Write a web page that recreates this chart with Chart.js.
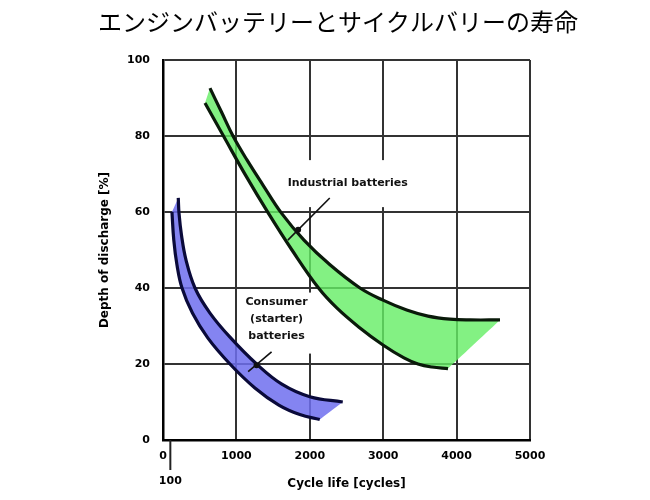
<!DOCTYPE html>
<html>
<head>
<meta charset="utf-8">
<script src="https://cdn.jsdelivr.net/npm/chart.js@4.4.1/dist/chart.umd.min.js"></script>
<style>
  html, body { margin: 0; padding: 0; background: #fff; }
</style>
</head>
<body>
<canvas id="chart" width="650" height="500"></canvas>
<script>
    "use strict";

    // Title, axis texts and ticks
    var chartTitle = "エンジンバッテリーとサイクルバリーの寿命";
    var xTitle = "Cycle life [cycles]";
    var yTitle = "Depth of discharge [%]";
    var xTicks = [0, 1000, 2000, 3000, 4000, 5000];
    var yTicks = [0, 20, 40, 60, 80, 100];
    var xMarker = 100;

    // Consumer (starter) batteries band: upper and lower edge
    var consumerUpperX = [208, 218, 252, 313, 436, 640, 925, 1275, 1619, 2000, 2449];
    var consumerUpperY = [63.7, 59.7, 53.9, 47.4, 40, 33.4, 26.8, 20, 14.7, 11.4, 10];
    var consumerLowerX = [122, 147, 190, 259, 401, 612, 912, 1252, 1578, 1864, 2136];
    var consumerLowerY = [60, 52.6, 46.1, 40, 33.4, 26.8, 20, 13.7, 9.2, 6.7, 5.4];

    // Industrial batteries band: upper and lower edge
    var industrialUpperX = [640, 797, 954, 1144, 1362, 1614, 1921, 2275, 2684, 2997, 3320, 3610, 3910, 4183, 4591];
    var industrialUpperY = [92.6, 86.3, 80, 73.7, 67.1, 59.7, 52.6, 46.1, 40, 36.8, 34.2, 32.6, 31.8, 31.6, 31.6];
    var industrialLowerX = [572, 824, 1124, 1435, 1757, 2119, 2371, 2670, 2997, 3283, 3474, 3665, 3883];
    var industrialLowerY = [88.7, 80, 69.7, 59.7, 50, 40, 34.7, 29.7, 25, 21.6, 20, 19.2, 18.8];

    var consumerLabel = ["Consumer", "(starter)", "batteries"];
    var industrialLabel = "Industrial batteries";

    function toPoints(xs, ys) {
        return xs.map(function (x, i) { return { x: x, y: ys[i] }; });
    }

    // closed outline for fill: 'shape' (ends doubled so curves match the edge lines)
    function bandShape(upper, lower) {
        var l = lower.slice().reverse();
        return upper.concat([upper[upper.length - 1], l[0]], l, [l[l.length - 1]]);
    }

    var consumerUpper = toPoints(consumerUpperX, consumerUpperY);
    var consumerLower = toPoints(consumerLowerX, consumerLowerY);
    var industrialUpper = toPoints(industrialUpperX, industrialUpperY);
    var industrialLower = toPoints(industrialLowerX, industrialLowerY);

    var boldFont = { family: "DejaVu Sans", size: 11, weight: "bold" };

    function edgeLine(data, color) {
        return {
            data: data,
            borderColor: color,
            borderWidth: 3.2,
            pointRadius: 0,
            tension: 0.4,
            fill: false,
            order: 1
        };
    }

    function bandFill(data, color) {
        return {
            data: data,
            backgroundColor: color,
            borderColor: "rgba(0,0,0,0)",
            borderWidth: 0,
            pointRadius: 0,
            tension: 0.4,
            fill: "shape",
            order: 2
        };
    }

    // Labels, arrows, title and the 100 marker
    var annotations = {
        id: "annotations",
        beforeDatasetsDraw: function (chart) {
            var ctx = chart.ctx, xs = chart.scales.x, ys = chart.scales.y;
            ctx.save();
            ctx.font = "bold 11px 'DejaVu Sans'";
            ctx.textAlign = "center";
            ctx.textBaseline = "middle";

            var ix = xs.getPixelForValue(2517), iy = ys.getPixelForValue(67.6);
            ctx.fillStyle = "#fff";
            ctx.fillRect(ix - 70, iy - 23, 140, 47);
            ctx.fillStyle = "#111";
            ctx.fillText(industrialLabel, ix, iy);

            var cx = xs.getPixelForValue(1547);
            var cy = ys.getPixelForValue(30.9);
            ctx.fillStyle = "#fff";
            ctx.fillRect(cx - 38, cy - 30, 77, 61);
            ctx.fillStyle = "#111";
            [36.4, 31.8, 27.2].forEach(function (v, i) {
                ctx.fillText(consumerLabel[i], cx, ys.getPixelForValue(v));
            });
            ctx.restore();
        },
        afterDatasetsDraw: function (chart) {
            var ctx = chart.ctx, xs = chart.scales.x, ys = chart.scales.y;
            function arrow(x1, y1, x2, y2, dx, dy) {
                ctx.beginPath();
                ctx.moveTo(xs.getPixelForValue(x1), ys.getPixelForValue(y1));
                ctx.lineTo(xs.getPixelForValue(x2), ys.getPixelForValue(y2));
                ctx.stroke();
                ctx.beginPath();
                ctx.arc(xs.getPixelForValue(dx), ys.getPixelForValue(dy), 3, 0, Math.PI * 2);
                ctx.fill();
            }
            ctx.save();
            ctx.strokeStyle = "#111";
            ctx.fillStyle = "#111";
            ctx.lineWidth = 1.6;
            arrow(2272, 63.7, 1701, 52.6, 1841, 55.3);
            arrow(1479, 23.2, 1160, 18, 1275, 19.7);
            ctx.restore();
        },
        afterDraw: function (chart) {
            var ctx = chart.ctx, xs = chart.scales.x, ys = chart.scales.y;
            ctx.save();
            ctx.fillStyle = "#000";
            ctx.textAlign = "center";
            ctx.textBaseline = "middle";
            ctx.font = "24px 'Noto Sans CJK JP'";
            ctx.fillText(chartTitle, 338, 22);

            var mx = xs.getPixelForValue(xMarker);
            var bottom = ys.getPixelForValue(0);
            ctx.strokeStyle = "#222";
            ctx.lineWidth = 2;
            ctx.beginPath();
            ctx.moveTo(mx, bottom);
            ctx.lineTo(mx, bottom + 30);
            ctx.stroke();
            ctx.font = "bold 11px 'DejaVu Sans'";
            ctx.fillText(String(xMarker), mx, bottom + 41);
            ctx.restore();
        }
    };

    var ctx1 = document.getElementById("chart").getContext("2d");
    var myChart1 = new Chart(ctx1, {
        type: "line",
        data: {
            datasets: [
                edgeLine(consumerUpper, "#0a0a3a"),
                edgeLine(consumerLower, "#0a0a3a"),
                edgeLine(industrialUpper, "#0a1a0a"),
                edgeLine(industrialLower, "#0a1a0a"),
                bandFill(bandShape(consumerUpper, consumerLower), "rgba(110, 110, 238, 0.85)"),
                bandFill(bandShape(industrialUpper, industrialLower), "rgba(100, 238, 100, 0.8)")
            ]
        },
        options: {
            responsive: false,
            animation: false,
            layout: { padding: { top: 60, right: 120, bottom: 0, left: 0 } },
            plugins: {
                legend: { display: false },
                tooltip: { enabled: false }
            },
            scales: {
                x: {
                    type: "linear",
                    min: 0,
                    max: 5000,
                    afterBuildTicks: function (s) { s.ticks = xTicks.map(function (v) { return { value: v }; }); },
                    afterFit: function (s) { s.height = 60; },
                    ticks: {
                        color: "#000", font: boldFont, padding: 10, maxRotation: 0,
                        callback: function (v) { return String(v); }
                    },
                    grid: { color: "#333", lineWidth: 2, drawTicks: false },
                    border: { color: "#000", width: 2.5 },
                    title: {
                        display: true, text: xTitle, color: "#000",
                        font: { family: "DejaVu Sans", size: 12, weight: "bold" },
                        padding: { top: 0, bottom: 9 }
                    }
                },
                y: {
                    type: "linear",
                    min: 0,
                    max: 100,
                    afterBuildTicks: function (s) { s.ticks = yTicks.map(function (v) { return { value: v }; }); },
                    afterFit: function (s) { s.width = 163; },
                    ticks: {
                        color: "#000", font: boldFont, padding: 13,
                        callback: function (v) { return String(v); }
                    },
                    grid: { color: "#333", lineWidth: 2, drawTicks: false },
                    border: { color: "#000", width: 2.5 },
                    title: {
                        display: true, text: yTitle, color: "#000",
                        font: { family: "DejaVu Sans", size: 12, weight: "bold" },
                        padding: { top: 98, bottom: 0 }
                    }
                }
            }
        },
        plugins: [annotations]
    });
</script>
</body>
</html>
